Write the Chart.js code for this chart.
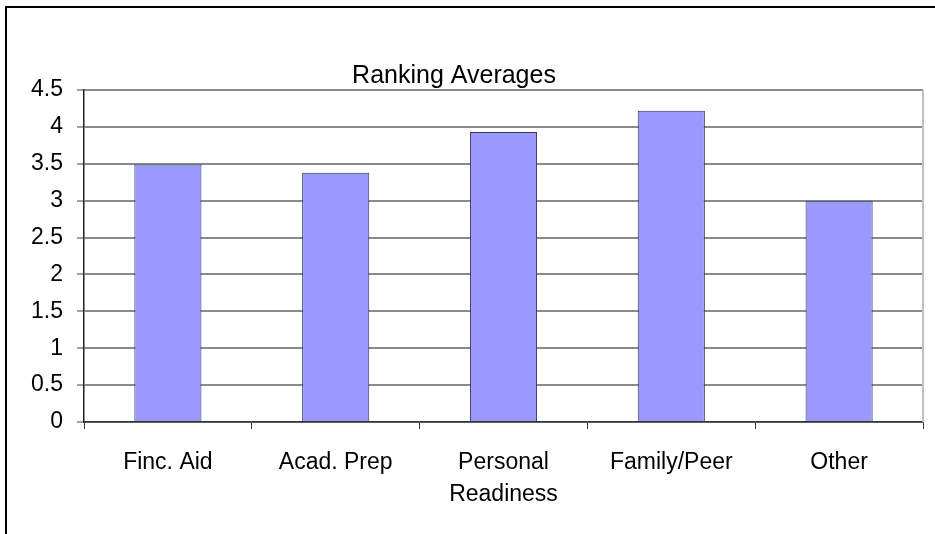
<!DOCTYPE html>
<html>
<head>
<meta charset="utf-8">
<script src="https://cdn.jsdelivr.net/npm/chart.js@4.4.1/dist/chart.umd.min.js"></script>
<style>
  body { margin: 0; background: #fff; overflow: hidden; }
  #frame { position: absolute; left: 5px; top: 6px; width: 2000px; height: 2000px;
           border-left: 2px solid #000; border-top: 2px solid #000; }
  #wrap { position: absolute; left: 0; top: 0; width: 935px; height: 534px; }
</style>
</head>
<body>
<div id="frame"></div>
<div id="wrap"><canvas id="rankChart" width="935" height="534"></canvas></div>
<script>
const chartTitle = 'Ranking Averages';
const categories = ['Finc. Aid', 'Acad. Prep', ['Personal', 'Readiness'], 'Family/Peer', 'Other'];
const averages = [3.49, 3.38, 3.93, 4.22, 3.0];
const yTicks = [0, 0.5, 1, 1.5, 2, 2.5, 3, 3.5, 4, 4.5];

// title sits a little left of centre in the original, so draw it ourselves
const titleAndFrame = {
    id: 'titleAndFrame',
    afterDraw(chart) {
        const ctx = chart.ctx;
        const area = chart.chartArea;
        ctx.save();
        ctx.strokeStyle = '#c0c0c0';
        ctx.lineWidth = 2;
        ctx.beginPath();
        ctx.moveTo(area.right, area.top);
        ctx.lineTo(area.right, area.bottom);
        ctx.stroke();
        ctx.fillStyle = '#000';
        ctx.font = '25px "Liberation Sans", Arial, sans-serif';
        ctx.textAlign = 'center';
        ctx.textBaseline = 'middle';
        ctx.fillText(chartTitle, 454, 76);
        ctx.restore();
    }
};

const ctx = document.getElementById('rankChart').getContext('2d');
new Chart(ctx, {
    type: 'bar',
    data: {
        labels: categories,
        datasets: [{
            data: averages,
            backgroundColor: '#9999ff',
            borderColor: '#333355',
            borderWidth: 1,
            barPercentage: 0.4,
            categoryPercentage: 1
        }]
    },
    options: {
        responsive: false,
        animation: false,
        layout: { padding: { left: 0, top: 90, right: 12, bottom: 0 } },
        plugins: {
            legend: { display: false },
            tooltip: { enabled: false },
            title: { display: false }
        },
        scales: {
            x: {
                offset: true,
                grid: { offset: true, drawOnChartArea: false, tickLength: 7, color: '#333', lineWidth: 1 },
                border: { color: '#333', width: 1.5 },
                ticks: {
                    color: '#000',
                    padding: 18,
                    maxRotation: 0,
                    font: { family: '"Liberation Sans", Arial, sans-serif', size: 23, lineHeight: 1.38 }
                },
                afterFit(scale) { scale.height = 112; }
            },
            y: {
                min: 0,
                max: 4.5,
                afterBuildTicks(scale) { scale.ticks = yTicks.map(v => ({ value: v })); },
                grid: { color: '#8a8a8a', lineWidth: 2, tickLength: 7, tickColor: '#444', tickWidth: 1 },
                border: { color: '#222', width: 1.5 },
                ticks: {
                    color: '#000',
                    padding: 14,
                    font: { family: '"Liberation Sans", Arial, sans-serif', size: 23 },
                    callback: v => String(v)
                },
                afterFit(scale) { scale.width = 84; }
            }
        }
    },
    plugins: [titleAndFrame]
});
</script>
</body>
</html>
